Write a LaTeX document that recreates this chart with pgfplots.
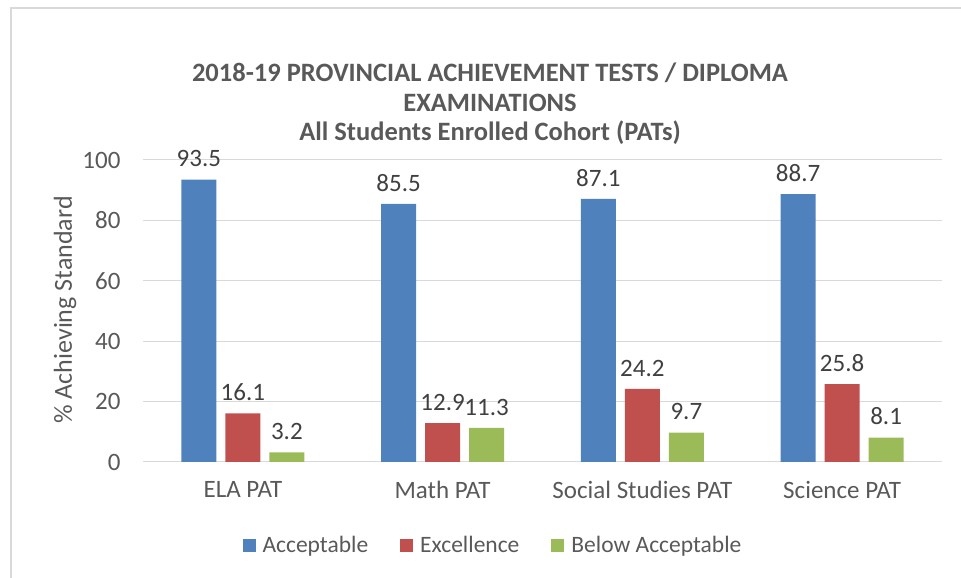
\documentclass[border=0pt]{standalone}
\usepackage{pgfplots}
\pgfplotsset{compat=1.18}
\usepackage{fontspec}
\setmainfont{Carlito}
\definecolor{cblue}{HTML}{4F81BD}
\definecolor{cred}{HTML}{C0504D}
\definecolor{cgreen}{HTML}{9BBB59}
\definecolor{cgrid}{HTML}{D9D9D9}
\definecolor{ctext}{HTML}{595959}
\definecolor{clab}{HTML}{404040}
\begin{document}
\begin{tikzpicture}[x=1pt,y=1pt]
\useasboundingbox (0pt,0pt) rectangle (961pt,578pt);
\draw[cgrid,line width=1.5pt] (11pt,0pt) -- (11pt,570pt) -- (975pt,570pt);
\begin{axis}[
  at={(143pt,116pt)}, anchor=south west,
  scale only axis, width=799pt, height=302pt,
  ybar=9pt, bar width=35pt,
  xmin=-0.5, xmax=3.5, ymin=0, ymax=100,
  xtick=data, xticklabels={ELA PAT,Math PAT,Social Studies PAT,Science PAT},
  ytick={0,20,40,60,80,100},
  ymajorgrids, grid style={cgrid,line width=1pt},
  axis line style={draw=none},
  major tick length=0pt,
  tick label style={font=\fontsize{25}{29}\selectfont, text=ctext},
  /pgf/number format/assume math mode=true,
  xticklabel style={yshift=-16pt},
  yticklabel style={xshift=-19pt},
  clip=false,
  nodes near coords,
  every node near coord/.append style={font=\fontsize{25}{29}\selectfont, text=clab, yshift=9pt},
  nodes near coords style={/pgf/number format/.cd, fixed, precision=1, fixed zerofill, assume math mode=true},
  legend columns=3,
  legend style={at={(0.438,-0.275)}, anchor=center, draw=none, fill=none,
    font=\fontsize{23.5}{28}\selectfont, text=ctext,
    /tikz/every odd column/.append style={column sep=5pt},
    /tikz/every even column/.append style={column sep=30pt}},
  legend image code/.code={\fill[#1] (0pt,-6.5pt) rectangle (13pt,6.5pt);},
]
\draw[cgrid,line width=1pt] (rel axis cs:0,0) -- (rel axis cs:1,0);
\addplot[fill=cblue,draw=none] coordinates {(0,93.5) (1,85.5) (2,87.1) (3,88.7)};
\addplot[fill=cred,draw=none] coordinates {(0,16.1) (1,12.9) (2,24.2) (3,25.8)};
\addplot[fill=cgreen,draw=none] coordinates {(0,3.2) (1,11.3) (2,9.7) (3,8.1)};
\legend{Acceptable,Excellence,Below Acceptable}
\end{axis}
\node[rotate=90, font=\fontsize{26}{30}\selectfont, text=ctext] at (65pt,268pt) {\% Achieving Standard};
\node[font=\fontsize{26.5}{30}\selectfont\bfseries, text=ctext] at (490pt,505pt) {2018-19 PROVINCIAL ACHIEVEMENT TESTS / DIPLOMA};
\node[font=\fontsize{26.5}{30}\selectfont\bfseries, text=ctext] at (490pt,475pt) {EXAMINATIONS};
\node[font=\fontsize{26.5}{30}\selectfont\bfseries, text=ctext] at (490pt,445pt) {All Students Enrolled Cohort (PATs)};
\end{tikzpicture}
\end{document}
